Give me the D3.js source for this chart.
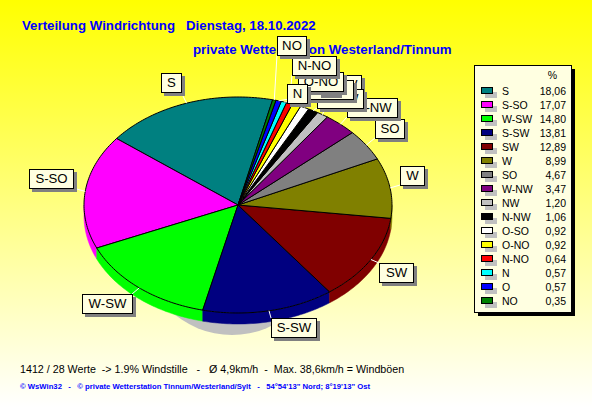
<!DOCTYPE html>
<html><head><meta charset="utf-8">
<script src="https://cdnjs.cloudflare.com/ajax/libs/d3/7.8.5/d3.min.js"></script>
<style>html,body{margin:0;padding:0;overflow:hidden}svg{display:block}text{font-family:"Liberation Sans",Arial,sans-serif}</style>
</head><body><svg id="c" width="592" height="407"></svg>
<script>
const categories=["S","S-SO","W-SW","S-SW","SW","W","SO","W-NW","NW","N-NW","O-SO","O-NO","N-NO","N","O","NO"];
const values=[18.06,17.07,14.80,13.81,12.89,8.99,4.67,3.47,1.20,1.06,0.92,0.92,0.64,0.57,0.57,0.35];
const valueLabels=["18,06","17,07","14,80","13,81","12,89","8,99","4,67","3,47","1,20","1,06","0,92","0,92","0,64","0,57","0,57","0,35"];
const colors=["#008080","#ff00ff","#00ff00","#000080","#800000","#808000","#808080","#800080","#c0c0c0","#000000","#ffffff","#ffff00","#ff0000","#00ffff","#0000ff","#008000"];
const labelBoxes=[[161,73,20,19],[29,169,44,19],[82,294,50,19],[271,318,45,19],[379,263,34,19],[400,166,24,19],[375,119,29,19],[347,98,50,19],[331,75,30,19],[317,89,46,19],[306,80,47,19],[298,72,45,19],[292,56,44,19],[287,84,20,19],[318,75,20,19],[277,36,29,19]];
const labelOrder=[0,1,2,3,4,5,6,7,8,9,10,14,11,12,13,15];

const svg=d3.select("#c");
const defs=svg.append("defs");
const g=defs.append("linearGradient").attr("id","bg").attr("x1",0).attr("x2",0).attr("y1",0).attr("y2",1);
g.append("stop").attr("offset",0).attr("stop-color","#ffff00");
g.append("stop").attr("offset",1).attr("stop-color","#ffffff");
svg.append("rect").attr("width",592).attr("height",407).attr("fill","url(#bg)");

svg.append("text").attr("x",22).attr("y",30).attr("fill","#0000ff").attr("font-weight","bold").attr("font-size",13.25).attr("xml:space","preserve").text("Verteilung Windrichtung   Dienstag, 18.10.2022");
svg.append("text").attr("x",193).attr("y",54).attr("fill","#0000ff").attr("font-weight","bold").attr("font-size",13.3).text("private Wetterstation Westerland/Tinnum");

const cx=238,cy=205,rx=154,ry=108,depth=11;
const start=13*Math.PI/180;
const pie=d3.pie().sort(null).value(d=>d).startAngle(start).endAngle(start-2*Math.PI);
const arcs=pie(values);
const pt=(a,dy=0)=>[cx+rx*Math.sin(a),cy-ry*Math.cos(a)+dy];
function arcPath(a0,a1,dy=0){
  const n=Math.max(2,Math.ceil(Math.abs(a1-a0)/0.02));
  return d3.range(n+1).map(i=>pt(a0+(a1-a0)*i/n,dy));
}
const line=d3.line();
svg.append("ellipse").attr("cx",232).attr("cy",245).attr("rx",90).attr("ry",90).attr("fill","#c0c0c0");
arcs.forEach((d,i)=>{
  let a0=d.endAngle,a1=d.startAngle;
  a0=Math.max(a0,-3*Math.PI/2);a1=Math.min(a1,-Math.PI/2);
  if(a1<=a0)return;
  const top=arcPath(a0,a1),bot=arcPath(a1,a0,depth);
  svg.append("path").attr("d",line(top.concat(bot))+"Z").attr("fill",colors[i]).attr("stroke",colors[i]).attr("stroke-width",.5);
});
arcs.forEach((d,i)=>{
  const pts=[[cx,cy]].concat(arcPath(d.startAngle,d.endAngle));
  svg.append("path").attr("d",line(pts)+"Z").attr("fill",colors[i]).attr("stroke","#000").attr("stroke-width",1);
});
labelOrder.forEach(i=>{
  const d=arcs[i],b=labelBoxes[i],p=pt((d.startAngle+d.endAngle)/2);
  const ex=Math.max(b[0],Math.min(b[0]+b[2],p[0])),ey=Math.max(b[1],Math.min(b[1]+b[3],p[1]));
  svg.append("line").attr("x1",p[0]).attr("y1",p[1]).attr("x2",ex).attr("y2",ey).attr("stroke","#fff");
});
labelOrder.forEach(i=>{
  const b=labelBoxes[i];
  svg.append("rect").attr("x",b[0]+3).attr("y",b[1]+3).attr("width",b[2]+1).attr("height",b[3]+1).attr("fill","#808080");
  svg.append("rect").attr("x",b[0]+.5).attr("y",b[1]+.5).attr("width",b[2]).attr("height",b[3]).attr("fill","#ffffe1").attr("stroke","#000");
  svg.append("text").attr("x",b[0]+b[2]/2+.5).attr("y",b[1]+b[3]/2+4.5).attr("text-anchor","middle").attr("font-size",13.2).attr("fill","#000").text(categories[i]);
});

const lx=474,ly=65,lw=97,lh=247;
svg.append("rect").attr("x",lx+4).attr("y",ly+4).attr("width",lw).attr("height",lh).attr("fill","#000");
svg.append("rect").attr("x",lx+.5).attr("y",ly+.5).attr("width",lw).attr("height",lh).attr("fill","#ffffe1").attr("stroke","#000");
svg.append("text").attr("x",557).attr("y",79).attr("text-anchor","end").attr("font-size",10.5).text("%");
const rowY=d3.scaleLinear().domain([0,15]).range([91,301]);
categories.forEach((c,i)=>{
  const y=Math.round(rowY(i));
  svg.append("rect").attr("x",485).attr("y",y+1).attr("width",12).attr("height",6).attr("fill","#c0c0c0");
  svg.append("rect").attr("x",481.5).attr("y",y-3.5).attr("width",11).attr("height",6).attr("fill",colors[i]).attr("stroke","#000");
  svg.append("text").attr("x",502).attr("y",y+4).attr("font-size",10.5).text(c);
  svg.append("text").attr("x",566).attr("y",y+4).attr("text-anchor","end").attr("font-size",10.5).text(valueLabels[i]);
});
svg.append("text").attr("x",20).attr("y",373).attr("font-size",10.7).attr("xml:space","preserve").text("1412 / 28 Werte  -> 1.9% Windstille   -   Ø 4,9km/h  -  Max. 38,6km/h = Windböen");
svg.append("text").attr("x",20).attr("y",389).attr("font-size",7.7).attr("font-weight","bold").attr("fill","#0000ff").attr("xml:space","preserve").text("© WsWin32   -   © private Wetterstation Tinnum/Westerland/Sylt   -   54°54'13\" Nord; 8°19'13\" Ost");
</script></body></html>
